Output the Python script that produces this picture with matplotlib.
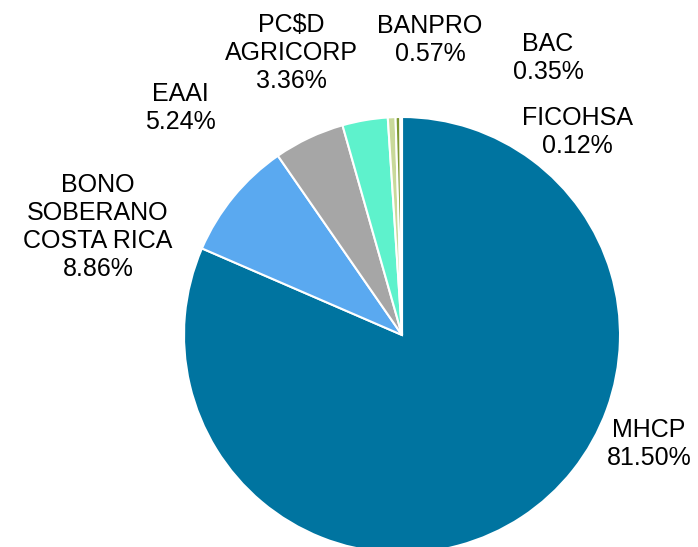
import matplotlib.pyplot as plt

# data
labels = ['MHCP', 'BONO\nSOBERANO\nCOSTA RICA', 'EAAI', 'PC$D\nAGRICORP', 'BANPRO', 'BAC', 'FICOHSA']
values = [81.50, 8.86, 5.24, 3.36, 0.57, 0.35, 0.12]

colors = ['#0074a0', '#5aa9f0', '#a6a6a6', '#5ef2cc', '#c9d99a', '#7d9932', '#6f8d2c']
# label centers, in units of the pie radius (placed by hand like the source chart)
label_pos = [(1.133, -0.500), (-1.394, 0.495), (-1.018, 1.041), (-0.509, 1.294),
             (0.128, 1.353), (0.670, 1.271), (0.803, 0.931)]

plt.rcParams['font.family'] = ['Liberation Sans', 'DejaVu Sans']

fig = plt.figure(figsize=(6.98, 5.47), dpi=100)
ax = fig.add_axes([0, 0, 1, 1])

wedges, _ = ax.pie(values, colors=colors, startangle=90, counterclock=False,
                   radius=1, center=(0, 0),
                   wedgeprops=dict(edgecolor='white', linewidth=1.5))

for lab, val, (x, y) in zip(labels, values, label_pos):
    ax.text(x, y, '{}\n{:.2f}%'.format(lab, val), ha='center', va='center',
            fontsize=18, linespacing=1.2, color='black')

# pie center sits at pixel (402, 335) with radius 218
ax.set_xlim(-402 / 218, (698 - 402) / 218)
ax.set_ylim(-(547 - 335) / 218, 335 / 218)
ax.set_aspect('auto')
ax.axis('off')

fig.savefig('out.png', dpi=100)
